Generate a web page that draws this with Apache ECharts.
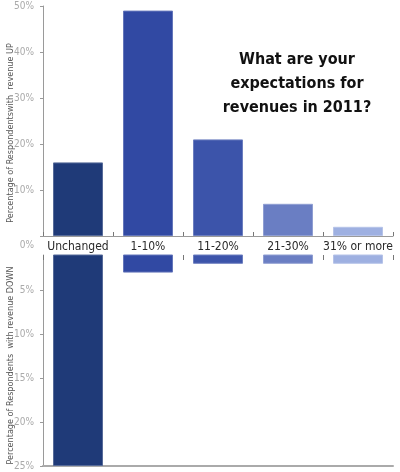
<!DOCTYPE html>
<html>
<head>
<meta charset="utf-8">
<script src="https://cdn.jsdelivr.net/npm/echarts@6/dist/echarts.min.js"></script>
<style>
  html, body { margin: 0; padding: 0; background: #fff; }
  #main { width: 400px; height: 472px; }
</style>
</head>
<body>
<div id="main"></div>
<script>
// data
var categories = ['Unchanged', '1-10%', '11-20%', '21-30%', '31% or more'];
var revenueUp = [16, 49, 21, 7, 2];
var revenueDown = [25, 3, 2, 2, 2];
var barColors = ['#1f3a78', '#3149a3', '#3c54aa', '#6a7ec3', '#9eb0e1'];
var upTicks = [0, 10, 20, 30, 40, 50];
var downTicks = [5, 10, 15, 20, 25];

var chart = echarts.init(document.getElementById('main'), null, { renderer: 'canvas' });

function darker(c) {
  return echarts.color.lift(c, 0.25);
}

function barData(values) {
  return values.map(function (v, i) {
    return {
      value: v,
      itemStyle: { color: barColors[i], borderColor: darker(barColors[i]), borderWidth: 1 }
    };
  });
}

var gray = '#9a9a9a';
var condensed = 'DejaVu Sans Condensed';

var option = {
  backgroundColor: '#fff',
  animation: false,
  title: {
    text: 'What are your\nexpectations for\nrevenues in 2011?',
    left: 292,
    top: 43,
    textAlign: 'center',
    textStyle: {
      fontFamily: condensed,
      fontWeight: 'bold',
      fontSize: 16,
      lineHeight: 24,
      color: '#111'
    }
  },
  grid: [
    { left: 43, top: 6, width: 350, height: 230, outerBoundsMode: 'none', containLabel: false },
    { left: 43, top: 255, width: 350, height: 211, outerBoundsMode: 'none', containLabel: false }
  ],
  xAxis: [{
    gridIndex: 0,
    type: 'category',
    data: categories,
    z: 10,
    axisLine: { show: true, lineStyle: { color: gray, width: 1 } },
    axisTick: { show: true, inside: true, length: 4, lineStyle: { color: '#777' } },
    axisLabel: {
      interval: 0,
      margin: 5,
      color: '#2a2a2a',
      fontFamily: condensed,
      fontSize: 12
    }
  }, {
    gridIndex: 1,
    type: 'category',
    data: categories,
    position: 'top',
    axisLine: { show: false },
    axisTick: { show: true, inside: true, length: 5, lineStyle: { color: '#777' } },
    axisLabel: { show: false }
  }, {
    gridIndex: 1,
    type: 'category',
    data: categories,
    position: 'bottom',
    axisLine: { show: true, lineStyle: { color: '#aaa', width: 2 } },
    axisTick: { show: false },
    axisLabel: { show: false }
  }],
  yAxis: [{
    gridIndex: 0,
    type: 'value',
    min: 0,
    max: 50,
    interval: 10,
    name: 'Percentage of Respondentswith  revenue UP',
    nameLocation: 'middle',
    nameGap: 28,
    nameMoveOverlap: false,
    nameTextStyle: { color: '#555', fontSize: 9, fontFamily: condensed, padding: [0, 0, 0, -24] },
    axisLine: { show: true, lineStyle: { color: gray } },
    axisTick: { show: true, length: 3, lineStyle: { color: gray } },
    splitLine: { show: false },
    axisLabel: {
      margin: 9,
      color: '#aaa',
      fontSize: 10,
      fontFamily: condensed,
      formatter: function (v) {
        return v === 0 ? '{z|0%}' : v + '%';
      },
      rich: { z: { color: '#aaa', fontSize: 10, fontFamily: condensed, padding: [18, 0, 0, 0] } }
    }
  }, {
    gridIndex: 1,
    type: 'value',
    inverse: true,
    min: 1,
    max: 25,
    name: 'Percentage of Respondents  with revenue DOWN',
    nameLocation: 'middle',
    nameGap: 28,
    nameMoveOverlap: false,
    nameTextStyle: { color: '#555', fontSize: 9, fontFamily: condensed, padding: [0, 0, 0, -10] },
    axisLine: { show: true, lineStyle: { color: gray } },
    axisTick: { show: true, length: 3, lineStyle: { color: gray }, customValues: downTicks },
    splitLine: { show: false },
    axisLabel: {
      margin: 9,
      color: '#aaa',
      fontSize: 10,
      fontFamily: condensed,
      customValues: downTicks,
      formatter: '{value}%'
    }
  }],
  series: [{
    type: 'bar',
    xAxisIndex: 0,
    yAxisIndex: 0,
    barWidth: 50,
    data: barData(revenueUp)
  }, {
    type: 'bar',
    xAxisIndex: 1,
    yAxisIndex: 1,
    barWidth: 50,
    clip: true,
    data: barData(revenueDown)
  }]
};

chart.setOption(option);
</script>
</body>
</html>
